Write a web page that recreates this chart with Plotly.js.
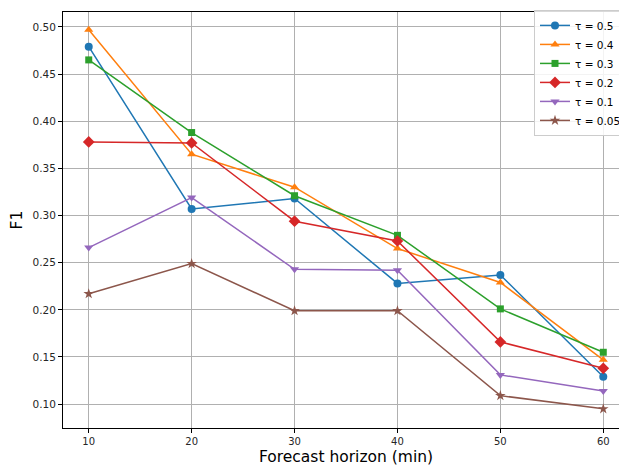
<!DOCTYPE html>
<html>
<head>
<meta charset="utf-8">
<script src="https://cdn.plot.ly/plotly-3.0.1.min.js"></script>
<style>
html,body{margin:0;padding:0;overflow:hidden;background:#fff;width:619px;height:466px;}
#chart{width:650px;height:466px;}
</style>
</head>
<body>
<div id="chart"></div>
<script>
const horizons = [10, 20, 30, 40, 50, 60];
const seriesNames = ["τ = 0.5", "τ = 0.4", "τ = 0.3", "τ = 0.2", "τ = 0.1", "τ = 0.05"];
const tau050 = [0.479, 0.307, 0.318, 0.228, 0.237, 0.129];
const tau040 = [0.497, 0.365, 0.330, 0.265, 0.229, 0.147];
const tau030 = [0.465, 0.388, 0.321, 0.279, 0.201, 0.155];
const tau020 = [0.378, 0.377, 0.294, 0.273, 0.166, 0.138];
const tau010 = [0.266, 0.319, 0.243, 0.242, 0.131, 0.114];
const tau005 = [0.217, 0.249, 0.199, 0.199, 0.109, 0.095];
const yTicks = [0.10, 0.15, 0.20, 0.25, 0.30, 0.35, 0.40, 0.45, 0.50];
const xTicks = [10, 20, 30, 40, 50, 60];

const allSeries = [tau050, tau040, tau030, tau020, tau010, tau005];
const colors = ["#1f77b4", "#ff7f0e", "#2ca02c", "#d62728", "#9467bd", "#8c564b"];
const symbols = ["circle", "triangle-up", "square", "diamond", "triangle-down", "star"];
const sizes = [8, 8, 7, 9, 8, 8];

const traces = allSeries.map((ys, i) => ({
  x: horizons,
  y: ys,
  type: "scatter",
  mode: "lines+markers",
  name: seriesNames[i],
  line: {color: colors[i], width: 1.5},
  marker: {color: colors[i], symbol: symbols[i], size: sizes[i]}
}));

const layout = {
  width: 650,
  height: 466,
  margin: {l: 63, r: 21, t: 10, b: 38},
  paper_bgcolor: "#fff",
  plot_bgcolor: "#fff",
  font: {family: "DejaVu Sans", size: 10, color: "#262626"},
  showlegend: true,
  legend: {
    x: (534 - 63) / 566, y: 1.005, xanchor: "left", yanchor: "top",
    bgcolor: "rgba(255,255,255,0.85)",
    bordercolor: "#cccccc", borderwidth: 1,
    font: {family: "DejaVu Sans", size: 10.5, color: "#000"},
    tracegroupgap: 0,
    itemwidth: 30
  },
  xaxis: {
    range: [7.5, 62.5],
    tickvals: xTicks,
    ticktext: xTicks.map(String),
    showgrid: true, gridcolor: "#b0b0b0", gridwidth: 1,
    zeroline: false,
    showline: true, linecolor: "#000", linewidth: 1, mirror: true,
    ticks: "outside", ticklen: 4, tickcolor: "#000",
    tickfont: {family: "DejaVu Sans", size: 10, color: "#262626"},
    title: {text: "Forecast horizon (min)", font: {family: "DejaVu Sans", size: 15.5, color: "#000"}, standoff: 5}
  },
  yaxis: {
    range: [0.0747, 0.5158],
    tickvals: yTicks,
    ticktext: yTicks.map(v => v.toFixed(2)),
    showgrid: true, gridcolor: "#b0b0b0", gridwidth: 1,
    zeroline: false,
    showline: true, linecolor: "#000", linewidth: 1, mirror: false,
    ticks: "outside", ticklen: 4, tickcolor: "#000",
    tickfont: {family: "DejaVu Sans", size: 10.5, color: "#262626"},
    title: {text: "F1", font: {family: "DejaVu Sans", size: 15.5, color: "#000"}, standoff: 6}
  }
};

Plotly.newPlot("chart", traces, layout, {displayModeBar: false, staticPlot: true});
</script>
</body>
</html>
